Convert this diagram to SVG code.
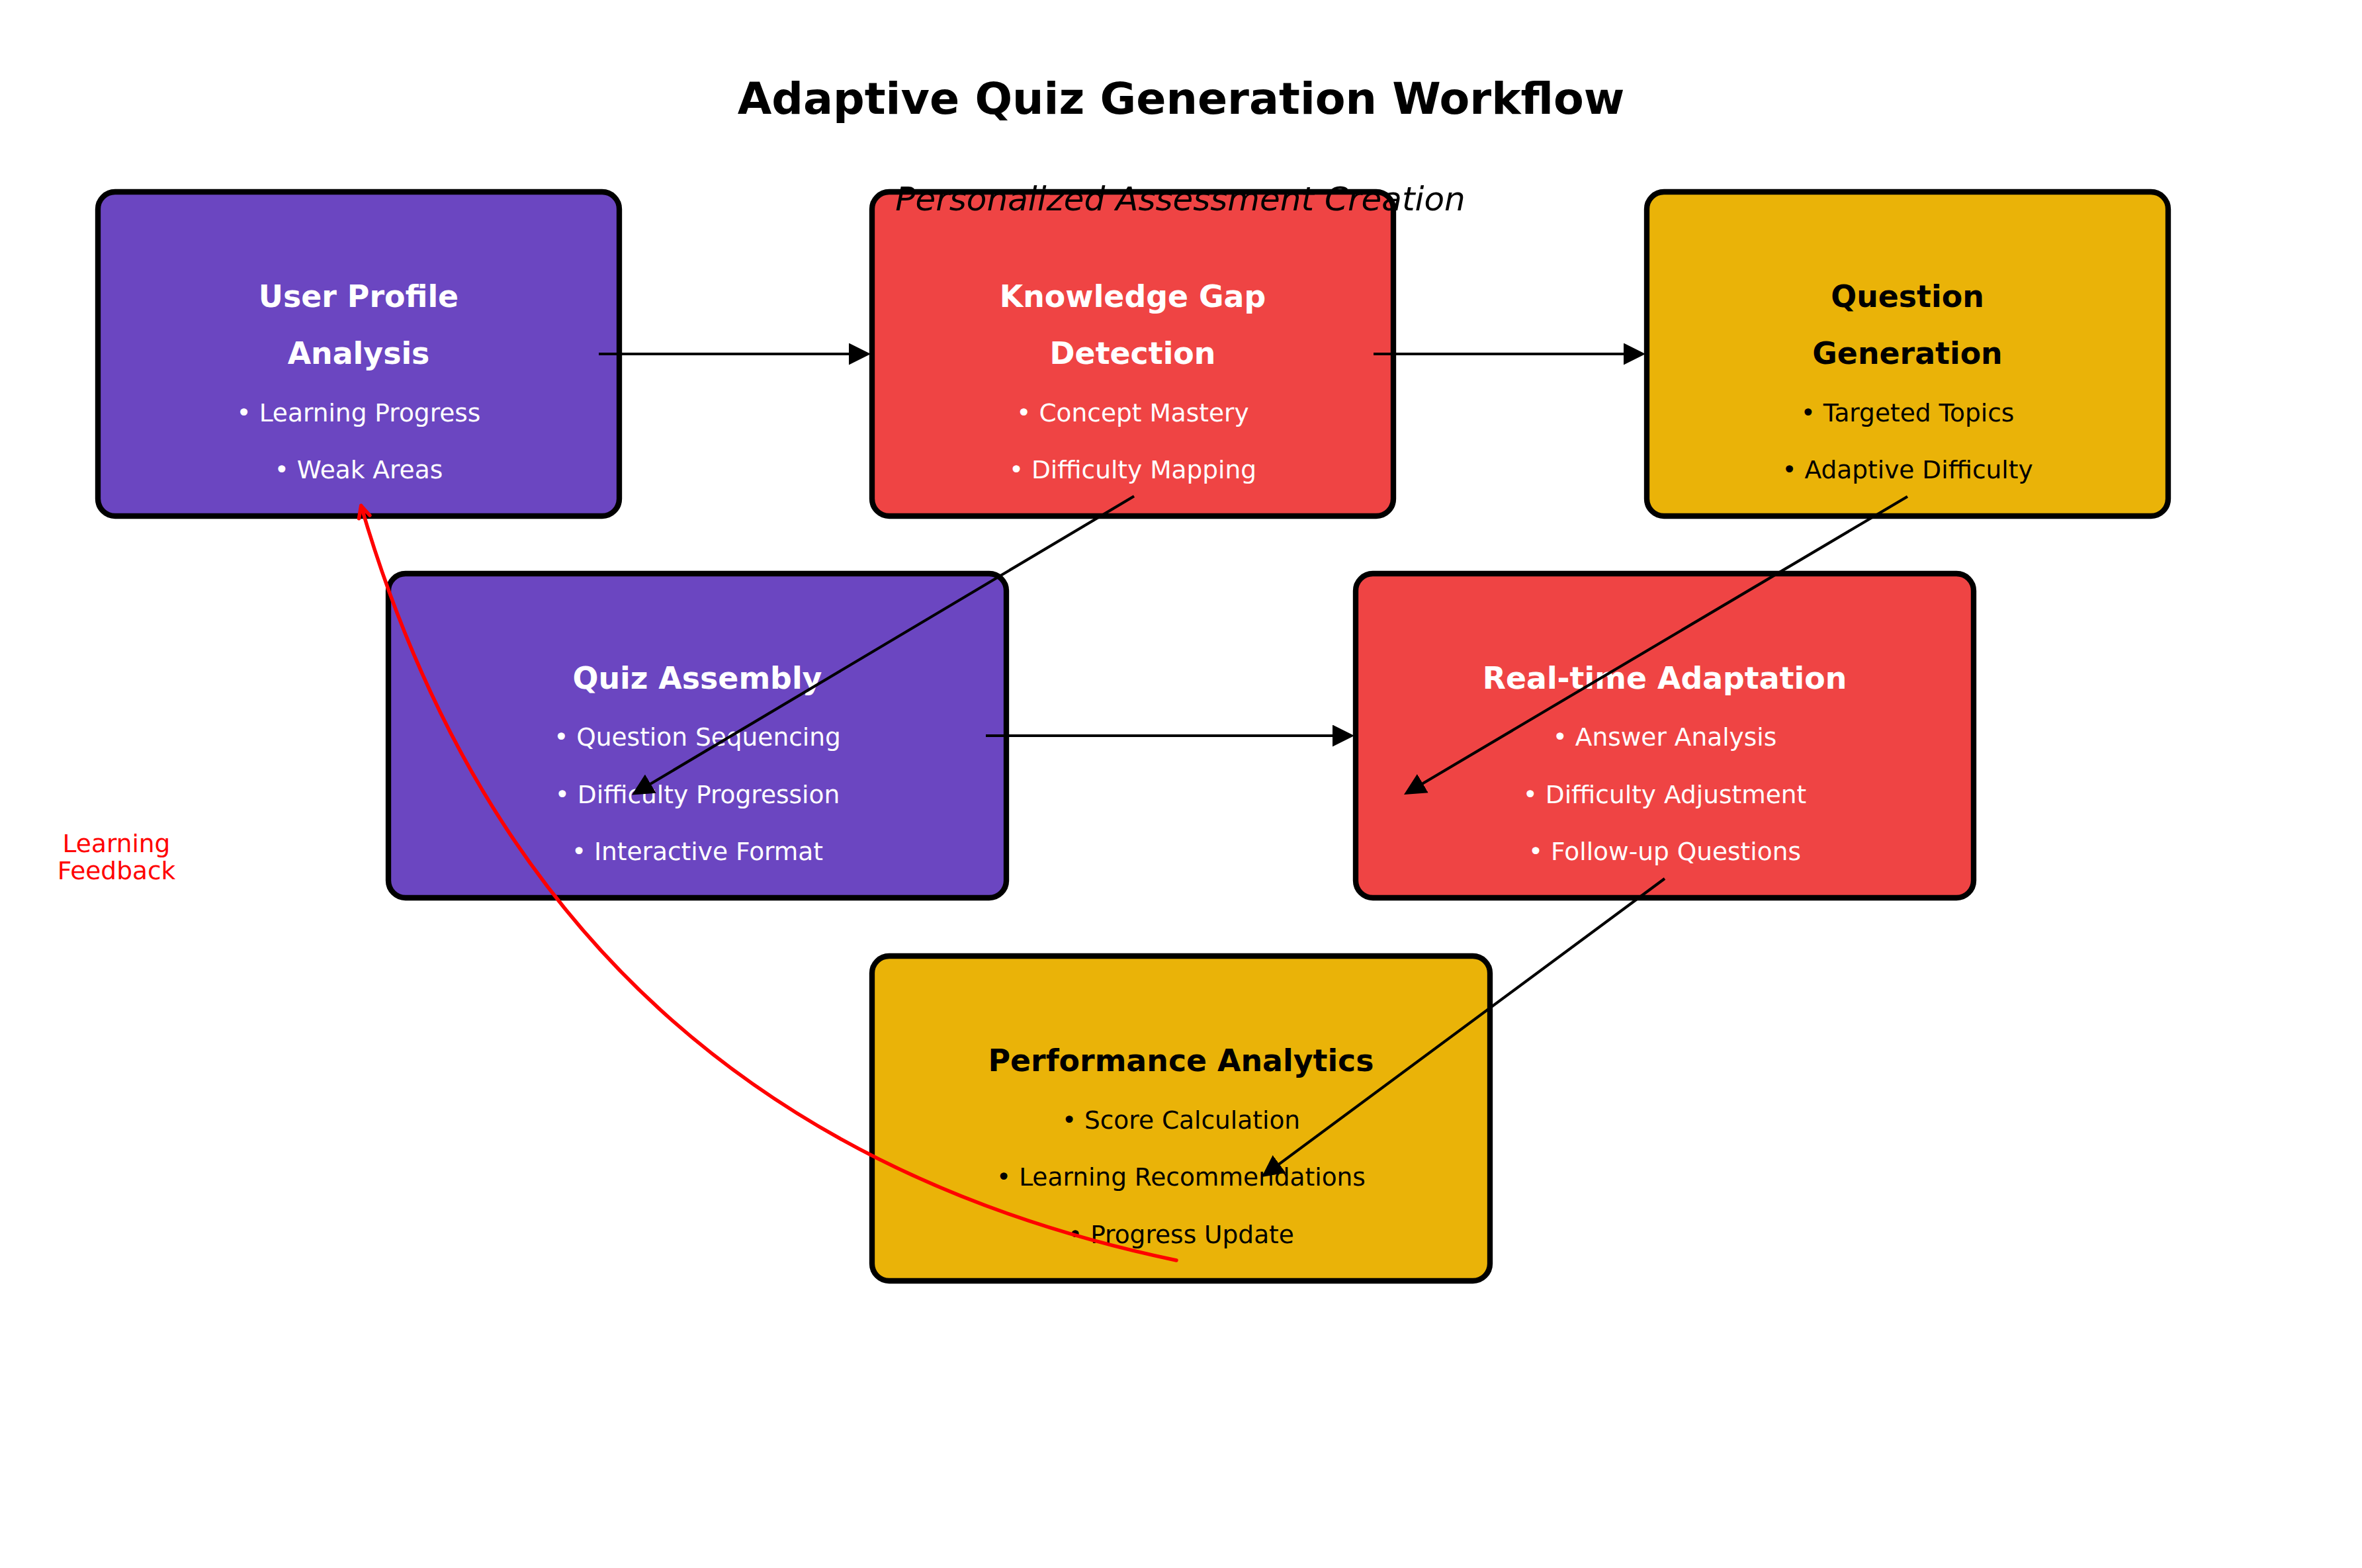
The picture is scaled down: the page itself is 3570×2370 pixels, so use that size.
<svg xmlns="http://www.w3.org/2000/svg" width="3570" height="2370" viewBox="0 0 3570 2370">
<style>
.box{stroke:#000;stroke-width:8.33}
.purple{fill:#6B46C1}
.red{fill:#EF4444}
.yellow{fill:#EAB308}
text{font-family:"DejaVu Sans","Liberation Sans",sans-serif;text-anchor:middle}
.h{font-size:45.8px;font-weight:bold}
.b{font-size:37.5px}
.w{fill:#FFFFFF}
.k{fill:#000000}
.conn{stroke:#000;stroke-width:4.17;fill:none}
.fb{stroke:#FF0000;stroke-width:5.5;fill:none;stroke-linecap:round;stroke-linejoin:round}
</style>
<defs>
<marker id="head" viewBox="0 0 33 33" refX="3" refY="16.5" markerWidth="33" markerHeight="33" markerUnits="userSpaceOnUse" orient="auto">
<path d="M0,0 L33,16.5 L0,33 Z" fill="#000"/>
</marker>
</defs>
<rect width="3570" height="2370" fill="#FFFFFF"/>
<text x="1785" y="172" style="font-size:66.7px;font-weight:bold" fill="#000">Adaptive Quiz Generation Workflow</text>

<g id="node-user-profile">
<rect class="box purple" x="148" y="290" width="788" height="490" rx="26"/>
<text class="h w" x="542" y="463.5">User Profile</text>
<text class="h w" x="542" y="550">Analysis</text>
<text class="b w" x="542" y="636.6">• Learning Progress</text>
<text class="b w" x="542" y="723.2">• Weak Areas</text>
</g>
<g id="node-knowledge-gap">
<rect class="box red" x="1318" y="290" width="788" height="490" rx="26"/>
<text class="h w" x="1712" y="463.5">Knowledge Gap</text>
<text class="h w" x="1712" y="550">Detection</text>
<text class="b w" x="1712" y="636.6">• Concept Mastery</text>
<text class="b w" x="1712" y="723.2">• Difficulty Mapping</text>
</g>
<g id="node-question-generation">
<rect class="box yellow" x="2489" y="290" width="788" height="490" rx="26"/>
<text class="h k" x="2883" y="463.5">Question</text>
<text class="h k" x="2883" y="550">Generation</text>
<text class="b k" x="2883" y="636.6">• Targeted Topics</text>
<text class="b k" x="2883" y="723.2">• Adaptive Difficulty</text>
</g>
<g id="node-quiz-assembly">
<rect class="box purple" x="587" y="867" width="934" height="490" rx="26"/>
<text class="h w" x="1054" y="1040.5">Quiz Assembly</text>
<text class="b w" x="1054" y="1127">• Question Sequencing</text>
<text class="b w" x="1054" y="1213.6">• Difficulty Progression</text>
<text class="b w" x="1054" y="1300.2">• Interactive Format</text>
</g>
<g id="node-realtime-adaptation">
<rect class="box red" x="2049" y="867" width="934" height="490" rx="26"/>
<text class="h w" x="2516" y="1040.5">Real-time Adaptation</text>
<text class="b w" x="2516" y="1127">• Answer Analysis</text>
<text class="b w" x="2516" y="1213.6">• Difficulty Adjustment</text>
<text class="b w" x="2516" y="1300.2">• Follow-up Questions</text>
</g>
<g id="node-performance-analytics">
<rect class="box yellow" x="1318" y="1445" width="934" height="491" rx="26"/>
<text class="h k" x="1785" y="1619">Performance Analytics</text>
<text class="b k" x="1785" y="1705.5">• Score Calculation</text>
<text class="b k" x="1785" y="1792">• Learning Recommendations</text>
<text class="b k" x="1785" y="1878.7">• Progress Update</text>
</g>

<g id="connectors">
<line class="conn" x1="905" y1="535" x2="1286" y2="535" marker-end="url(#head)"/>
<line class="conn" x1="2076" y1="535" x2="2457" y2="535" marker-end="url(#head)"/>
<line class="conn" x1="1714" y1="750" x2="980.8" y2="1186.2" marker-end="url(#head)"/>
<line class="conn" x1="2883" y1="750.5" x2="2147.8" y2="1185.7" marker-end="url(#head)"/>
<line class="conn" x1="1490" y1="1112" x2="2017" y2="1112" marker-end="url(#head)"/>
<line class="conn" x1="2516" y1="1328" x2="1931.1" y2="1761.1" marker-end="url(#head)"/>
<path class="fb" d="M1778,1905 Q819.6,1704.4 545.7,764.3"/>
<path class="fb" d="M542.5,783.8 L545.7,764.3 L558.9,779"/>
</g>

<g id="label-learning-feedback">
<text x="176" y="1288" style="font-size:37.5px" fill="#FF0000">Learning</text>
<text x="176" y="1329" style="font-size:37.5px" fill="#FF0000">Feedback</text>
</g>
<text x="1784" y="318" style="font-size:50px;font-style:italic" fill="#000">Personalized Assessment Creation</text>
</svg>
